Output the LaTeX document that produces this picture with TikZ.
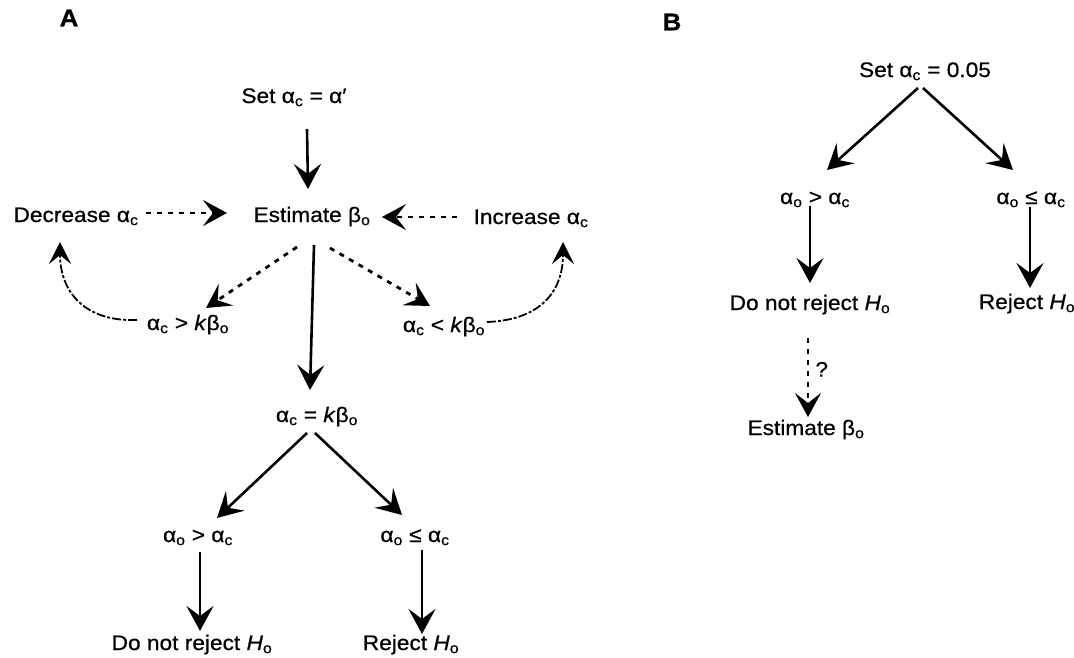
\documentclass[tikz,border=0pt]{standalone}
\usepackage{fontspec}
\setmainfont[FakeStretch=1.08,FakeBold=0.6]{Liberation Sans}
\usetikzlibrary{arrows.meta}
\newcommand{\lsub}[1]{\textsubscript{#1}}
\begin{document}
\begin{tikzpicture}[x=1pt,y=-1pt,
  lbl/.style={font=\fontsize{21}{25}\selectfont, inner sep=0pt, text height=16pt, text depth=2pt, anchor=center},
  panel/.style={font=\fontsize{24}{28}\selectfont\bfseries, inner sep=0pt, anchor=center},
  solidarrow/.style={line width=2.6pt, -{Stealth[length=25pt,width=27pt,inset=10pt]}},
  dasharrow/.style={line width=2.8pt, dash pattern=on 5pt off 6pt, -{Stealth[length=24pt,width=26pt,inset=10pt]}},
  curvearrow/.style={line width=1.8pt, dash pattern=on 9pt off 2pt on 3pt off 2pt, -{Stealth[length=22pt,width=22pt,inset=9pt]}}]
\fill[white] (0,0) rectangle (1074,657);
\useasboundingbox (0,0) rectangle (1074,657);

% ---------- Panel A ----------
\node[panel] (Alab) at (69,18) {A};
\node[lbl] (setA) at (294,96) {Set α\lsub{c} = α′};
\node[lbl] (est)  at (312,215) {Estimate β\lsub{o}};
\node[lbl] (dec)  at (76,215) {Decrease α\lsub{c}};
\node[lbl] (inc)  at (531,217) {Increase α\lsub{c}};
\node[lbl] (lt)   at (188,323) {α\lsub{c} > \textit{k}β\lsub{o}};
\node[lbl] (rt)   at (444,325) {α\lsub{c} < \textit{k}β\lsub{o}};
\node[lbl] (eq)   at (317,415) {α\lsub{c} = \textit{k}β\lsub{o}};
\node[lbl] (aoA)  at (198,535) {α\lsub{o} > α\lsub{c}};
\node[lbl] (aleA) at (415,535) {α\lsub{o} ≤ α\lsub{c}};
\node[lbl] (dnrA) at (192,643) {Do not reject \textit{H}\lsub{o}};
\node[lbl] (rejA) at (411,643) {Reject \textit{H}\lsub{o}};

\draw[solidarrow] ([shift={(13,33)}]setA.center) -- ([shift={(-4,-26)}]est.center);
\draw[dasharrow] ([shift={(70,-2)}]dec.center) -- ([shift={(-85,-2)}]est.center);
\draw[dasharrow] ([shift={(-74,0)}]inc.center) -- ([shift={(70,2)}]est.center);
\draw[dasharrow] ([shift={(-15,32)}]est.center) -- ([shift={(18,-15)}]lt.center);
\draw[dasharrow] ([shift={(18,33)}]est.center) -- ([shift={(-14,-19)}]rt.center);
\draw[solidarrow] ([shift={(2,30)}]est.center) -- ([shift={(-7,-25)}]eq.center);
\draw[curvearrow] ([shift={(-51,-3)}]lt.center) .. controls (85,322) and (60,292) .. ([shift={(-16,27)}]dec.center);
\draw[curvearrow] ([shift={(43,-3)}]rt.center) .. controls (540,320) and (563,292) .. ([shift={(32,25)}]inc.center);
\draw[solidarrow] ([shift={(-10,18)}]eq.center) -- ([shift={(19,-17)}]aoA.center);
\draw[solidarrow] ([shift={(-2,18)}]eq.center) -- ([shift={(-13,-20)}]aleA.center);
\draw[solidarrow] ([shift={(2,17)}]aoA.center) -- ([shift={(8,-12)}]dnrA.center);
\draw[solidarrow] ([shift={(7,15)}]aleA.center) -- ([shift={(11,-9)}]rejA.center);

% ---------- Panel B ----------
\node[panel] (Blab) at (672,22) {B};
\node[lbl] (setB) at (925,70) {Set α\lsub{c} = 0.05};
\node[lbl] (aoB)  at (815,197) {α\lsub{o} > α\lsub{c}};
\node[lbl] (aleB) at (1031,197) {α\lsub{o} ≤ α\lsub{c}};
\node[lbl] (dnrB) at (810,303) {Do not reject \textit{H}\lsub{o}};
\node[lbl] (rejB) at (1027,302) {Reject \textit{H}\lsub{o}};
\node[lbl] (estB) at (806,428) {Estimate β\lsub{o}};

\draw[solidarrow] ([shift={(-7,18)}]setB.center) -- ([shift={(12,-27)}]aoB.center);
\draw[solidarrow] ([shift={(-2,18)}]setB.center) -- ([shift={(-18,-27)}]aleB.center);
\draw[solidarrow] ([shift={(-5,9)}]aoB.center) -- ([shift={(0,-20)}]dnrB.center);
\draw[solidarrow] ([shift={(-1,10)}]aleB.center) -- ([shift={(3,-14)}]rejB.center);
\draw[dasharrow] ([shift={(-2,35)}]dnrB.center) -- node[lbl, right=6pt, pos=0.4] (q) {?} ([shift={(2,-11)}]estB.center);
\end{tikzpicture}
\end{document}
